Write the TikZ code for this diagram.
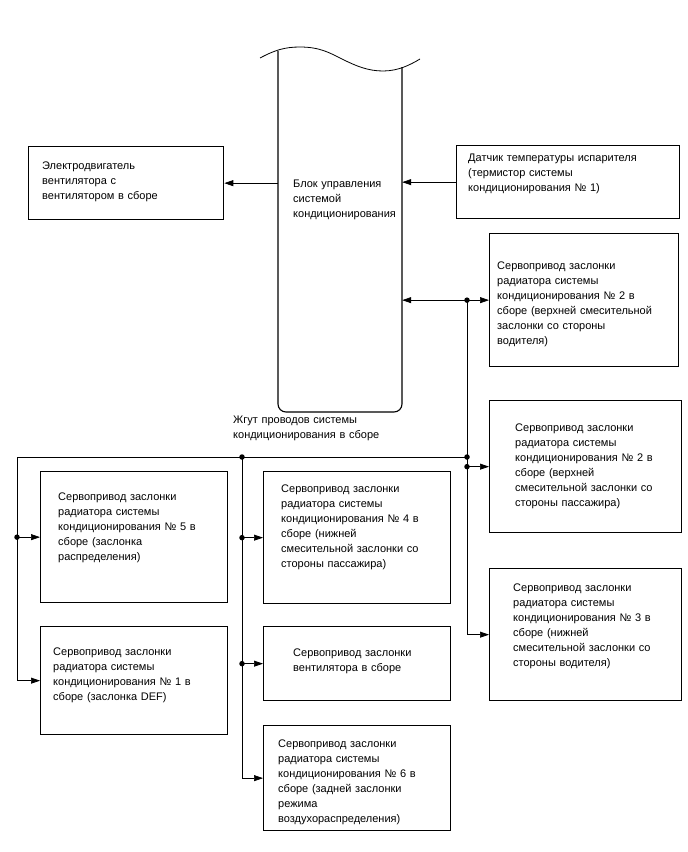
\documentclass[tikz,border=0pt]{standalone}
\usepackage{fontspec}
\setmainfont{Liberation Sans}
\usetikzlibrary{arrows.meta}

\begin{document}
\begin{tikzpicture}[x=1pt,y=-1pt,
  font=\fontsize{11}{15}\selectfont,
  box/.style={draw, line width=1.3pt, inner sep=0pt, anchor=north west},
  lbl/.style={inner sep=0pt, anchor=base west, text width=220pt, align=left},
  conn/.style={line width=0.7pt},
  arr/.style={conn, -{Triangle[length=9pt,width=6pt]}},
  dot/.style={circle, fill, inner sep=0pt, minimum size=5.5pt}]

\useasboundingbox (0,0) rectangle (688,852);

% Control unit (cut at the top)
\node[inner sep=0pt, minimum width=124pt, minimum height=361pt] (ecu) at (340,231.5) {};
\draw[line width=1.1pt, rounded corners=8pt] (278,51) -- (278,412) -- (402,412) -- (402,67);
\draw[line width=0.8pt] (260,58) .. controls (275,50) and (285,47) .. (300,47)
  .. controls (320,47) and (330,53) .. (342,59)
  .. controls (356,66) and (368,71) .. (383,71)
  .. controls (398,71) and (410,65) .. (420,59);
\node[lbl] (ecuT) at (293,187)
{Блок управления\\системой\\кондиционирования};

% Harness
\node[lbl] (harT) at (233,423)
{Жгут проводов системы\\кондиционирования в сборе};

% Top row
\node[box, minimum width=195pt, minimum height=73pt] (fan) at (28,146) {};
\node[lbl] (fanT) at (42,169)
{Электродвигатель\\вентилятора с\\вентилятором в сборе};

\node[box, minimum width=223pt, minimum height=73pt] (sen) at (456,145) {};
\node[lbl] (senT) at (468,161)
{Датчик температуры испарителя\\(термистор системы\\кондиционирования № 1)};

% Right column
\node[box, minimum width=189pt, minimum height=133pt] (drv2) at (489,233) {};
\node[lbl] (drv2T) at (497,269)
{Сервопривод заслонки\\радиатора системы\\кондиционирования № 2 в\\сборе (верхней смесительной\\заслонки со стороны\\водителя)};

\node[box, minimum width=192pt, minimum height=132pt] (pas2) at (489,400) {};
\node[lbl] (pas2T) at (515,431)
{Сервопривод заслонки\\радиатора системы\\кондиционирования № 2 в\\сборе (верхней\\смесительной заслонки со\\стороны пассажира)};

\node[box, minimum width=192pt, minimum height=132pt] (n3) at (489,568) {};
\node[lbl] (n3T) at (513,591)
{Сервопривод заслонки\\радиатора системы\\кондиционирования № 3 в\\сборе (нижней\\смесительной заслонки со\\стороны водителя)};

% Left column
\node[box, minimum width=187pt, minimum height=131pt] (n5) at (40,471) {};
\node[lbl] (n5T) at (58,500)
{Сервопривод заслонки\\радиатора системы\\кондиционирования № 5 в\\сборе (заслонка\\распределения)};

\node[box, minimum width=187pt, minimum height=108pt] (n1) at (40,626) {};
\node[lbl] (n1T) at (53,655)
{Сервопривод заслонки\\радиатора системы\\кондиционирования № 1 в\\сборе (заслонка DEF)};

% Middle column
\node[box, minimum width=187pt, minimum height=132pt] (n4) at (263,471) {};
\node[lbl] (n4T) at (281,492)
{Сервопривод заслонки\\радиатора системы\\кондиционирования № 4 в\\сборе (нижней\\смесительной заслонки со\\стороны пассажира)};

\node[box, minimum width=187pt, minimum height=74pt] (fsv) at (263,626) {};
\node[lbl] (fsvT) at (293,656)
{Сервопривод заслонки\\вентилятора в сборе};

\node[box, minimum width=187pt, minimum height=105pt] (n6) at (263,725) {};
\node[lbl] (n6T) at (278,747)
{Сервопривод заслонки\\радиатора системы\\кондиционирования № 6 в\\сборе (задней заслонки\\режима\\воздухораспределения)};

% Bus lines
\coordinate (rv) at (467,0);
\coordinate (lv) at (17,457);
\coordinate (mv) at (242,457);
\coordinate (bus) at (467,457);
\coordinate (j1) at (drv2.west -| rv);

\draw[arr] (ecu.west |- fan.east) -- (fan.east);
\draw[arr] (sen.west) -- (ecu.east |- sen.west);
\draw[arr] (j1) -- (ecu.east |- j1);
\draw[arr] (j1) -- (drv2.west);
\draw[arr] (j1) |- (n3.west);
\draw[arr] (pas2.west -| rv) -- (pas2.west);

\draw[conn] (bus) -- (lv);
\draw[arr] (lv) |- (n1.west);
\draw[arr] (n5.west -| lv) -- (n5.west);
\draw[arr] (mv) |- (n6.west);
\draw[arr] (n4.west -| mv) -- (n4.west);
\draw[arr] (fsv.west -| mv) -- (fsv.west);

% Junctions
\node[dot] (d1) at (j1) {};
\node[dot] (d2) at (bus) {};
\node[dot] (d3) at (pas2.west -| rv) {};
\node[dot] (d4) at (mv) {};
\node[dot] (d5) at (n5.west -| lv) {};
\node[dot] (d6) at (n4.west -| mv) {};
\node[dot] (d7) at (fsv.west -| mv) {};

\end{tikzpicture}
\end{document}
